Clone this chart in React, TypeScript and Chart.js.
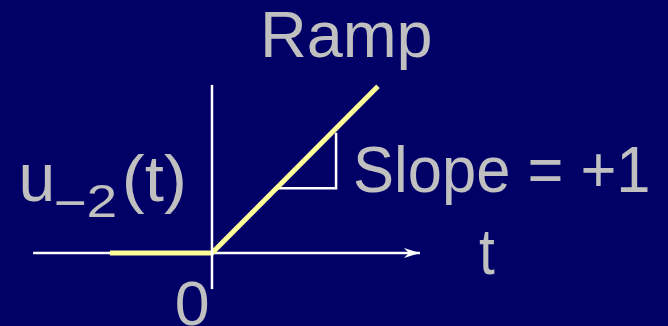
import React, { useEffect, useRef } from "react";
import { Chart, registerables } from "chart.js";

Chart.register(...registerables);

// Data (t on x, u on y)
const axisT = [-4.31, 5.01];
const axisU = [-0.87, 4.05];
const rampT = [-2.46, 0, 4.0];
const rampU = [0, 0, 4.02];
const slopeT = [1.56, 2.99, 2.99];
const slopeU = [1.56, 1.56, 2.9];

// Visible window in data units
const tRange = [-5.108, 10.988];
const uRange = [-1.759, 6.096];

// Text labels and their ink boxes in data units [left, right, top, bottom|null]
const labelTexts = ["Ramp", "Slope = +1", "t", "0", "u", "\u2212", "2", "(t)"];
const labelBoxes: (number | null)[][] = [
  [1.277, 5.253, 5.814, 4.393],
  [3.446, 10.506, 2.602, 1.157],
  [6.434, 6.819, 0.506, -0.53],
  [-0.851, -0.096, -0.651, null],
  [-4.56, -3.863, 2.12, 1.22],
  [-3.742, -3.06, 1.253, 1.157],
  [-2.96, -2.337, 1.679, 0.875],
  [-2.096, -0.691, 2.385, 0.94],
];

const BG = "#000066";
const TEXT = "#c0c0c0";
const YELLOW = "#ffff99";
const WHITE = "#ffffff";
const FONT = '"Liberation Sans", Arial, sans-serif';

const pts = (xs: number[], ys: number[]) => xs.map((x, i) => ({ x, y: ys[i] }));

const overlay = {
  id: "overlay",
  afterDatasetsDraw(chart: any) {
    const ctx = chart.ctx as CanvasRenderingContext2D;
    const xs = chart.scales.x;
    const ys = chart.scales.y;
    // arrow head at end of t axis
    const tipX = xs.getPixelForValue(axisT[1]);
    const tipY = ys.getPixelForValue(0);
    ctx.save();
    ctx.fillStyle = WHITE;
    ctx.beginPath();
    ctx.moveTo(tipX, tipY);
    ctx.lineTo(tipX - 16, tipY - 5);
    ctx.lineTo(tipX - 11, tipY);
    ctx.lineTo(tipX - 16, tipY + 5);
    ctx.closePath();
    ctx.fill();
    ctx.restore();

    // labels
    labelTexts.forEach((text, i) => {
      const [l, r, t, b] = labelBoxes[i];
      const L = xs.getPixelForValue(l as number);
      const R = xs.getPixelForValue(r as number);
      const T = ys.getPixelForValue(t as number);
      const B = b == null ? null : ys.getPixelForValue(b);
      ctx.save();
      ctx.font = `64px ${FONT}`;
      ctx.textAlign = "left";
      ctx.textBaseline = "alphabetic";
      const m = ctx.measureText(text);
      const inkW = m.actualBoundingBoxLeft + m.actualBoundingBoxRight;
      const inkH = m.actualBoundingBoxAscent + m.actualBoundingBoxDescent;
      const sx = (R - L) / inkW;
      const sy = B == null ? sx : (B - T) / inkH;
      ctx.translate(L + m.actualBoundingBoxLeft * sx, T + m.actualBoundingBoxAscent * sy);
      ctx.scale(sx, sy);
      ctx.fillStyle = TEXT;
      ctx.fillText(text, 0, 0);
      ctx.restore();
    });
  },
};

export default function App() {
  const ref = useRef<HTMLCanvasElement | null>(null);
  useEffect(() => {
    if (!ref.current) return;
    const chart = new Chart(ref.current, {
      type: "scatter",
      data: {
        datasets: [
          {
            data: pts([0, 0], axisU),
            borderColor: WHITE,
            borderWidth: 2.5,
            showLine: true,
            pointRadius: 0,
            order: 0,
          },
          {
            data: pts(rampT, rampU),
            borderColor: YELLOW,
            borderWidth: 5,
            showLine: true,
            pointRadius: 0,
            order: 1,
          },
          {
            data: pts(slopeT, slopeU),
            borderColor: WHITE,
            borderWidth: 2.5,
            showLine: true,
            pointRadius: 0,
            order: 2,
          },
          {
            data: pts(axisT, [0, 0]),
            borderColor: WHITE,
            borderWidth: 2.5,
            showLine: true,
            pointRadius: 0,
            order: 3,
          },
        ],
      },
      options: {
        animation: false,
        responsive: false,
        devicePixelRatio: 1,
        layout: { padding: 0 },
        plugins: { legend: { display: false }, tooltip: { enabled: false }, title: { display: false } },
        events: [],
        scales: {
          x: { type: "linear", min: tRange[0], max: tRange[1], display: false },
          y: { type: "linear", min: uRange[0], max: uRange[1], display: false },
        },
      },
      plugins: [overlay],
    } as any);
    return () => chart.destroy();
  }, []);
  return (
    <div style={{ position: "fixed", left: 0, top: 0, width: 668, height: 326, background: BG }}>
      <canvas ref={ref} width={668} height={326} style={{ display: "block" }} />
    </div>
  );
}
